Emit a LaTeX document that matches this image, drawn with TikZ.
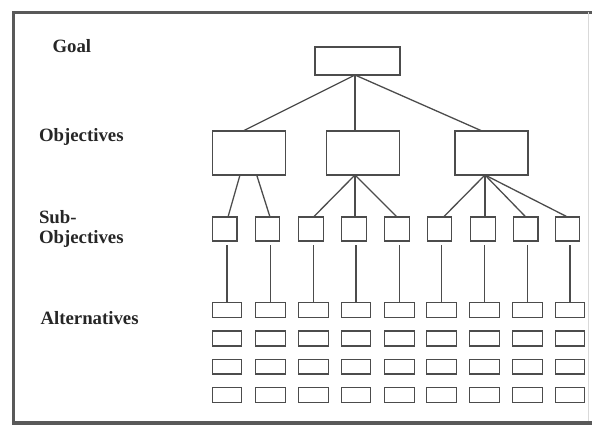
\documentclass[tikz,border=0pt]{standalone}
\usepackage{fontspec}
\setmainfont{Liberation Serif}
\usetikzlibrary{calc}

\begin{document}
\begin{tikzpicture}[x=1pt,y=-1pt,
  every node/.style={inner sep=0pt, outer sep=0pt},
  box/.style={draw=black!70, line width=1.4pt, fill=white},
  goalbox/.style={box, minimum width=85pt, minimum height=28pt},
  objbox/.style={box, minimum width=73pt, minimum height=44pt},
  subbox/.style={box, minimum width=24.5pt, minimum height=24pt},
  altbox/.style={box, minimum width=29.5pt, minimum height=14.7pt},
  link/.style={draw=black!70, line width=1.3pt},
  frameline/.style={draw=black!65, line width=3.5pt},
  level/.style={font=\bfseries\fontsize{18.8}{20}\selectfont, text=black!85, anchor=base west}]

\useasboundingbox (0,0) rectangle (592,425);

% outer frame
\draw[frameline] (592,12.5) -- (13.5,12.5) -- (13.5,423) -- (592,423);
\draw[draw=black!15, line width=1pt] (588,12.5) -- (588,421);

% level labels
\node[level] (lgoal) at (52.5,53) {Goal};
\node[level] (lobj) at (39,141.7) {Objectives};
\node[level] (lsub1) at (39,223) {Sub-};
\node[level] (lsub2) at (39,243) {Objectives};
\node[level] (lalt) at (40.5,324) {Alternatives};

% goal and objectives
\node[goalbox] (goal) at (357.5,61) {};
\node[objbox] (o1) at (249,153) {};
\node[objbox] (o2) at (363,153) {};
\node[objbox] (o3) at (491.5,153) {};

\draw[link] ([xshift=-2.5pt]goal.south) -- ([xshift=-6pt]o1.north);
\draw[link] ([xshift=-2.5pt]goal.south) -- ([xshift=-8pt]o2.north);
\draw[link] ([xshift=-2.5pt]goal.south) -- ([xshift=-9.5pt]o3.north);

% sub-objectives with their columns of alternatives
\foreach \i/\sx/\ax in {1/224.7/227, 2/267.5/270.5, 3/311/313.5, 4/354/356,
                        5/397/399.5, 6/439.5/441.5, 7/483/484.5, 8/525.8/527.5,
                        9/567.5/570}{
  \node[subbox] (s\i) at (\sx,229) {};
  \foreach \r/\ay in {1/310, 2/338.5, 3/366.7, 4/395}
    \node[altbox] (a\i-\r) at (\ax,\ay) {};
  \draw[link] (a\i-1.north) -- ($(a\i-1.north |- s\i.south)+(0,4)$);
}

% objective 1
\draw[link] ([xshift=-9pt]o1.south) -- ([xshift=3.3pt]s1.north);
\draw[link] ([xshift=7.7pt]o1.south) -- ([xshift=2.5pt]s2.north);
% objective 2
\draw[link] ([xshift=-8pt]o2.south) -- ([xshift=2.5pt]s3.north);
\draw[link] ([xshift=-8pt]o2.south) -- ([xshift=1pt]s4.north);
\draw[link] ([xshift=-8pt]o2.south) -- (s5.north);
% objective 3
\draw[link] ([xshift=-6.5pt]o3.south) -- ([xshift=4pt]s6.north);
\draw[link] ([xshift=-6.5pt]o3.south) -- ([xshift=2pt]s7.north);
\draw[link] ([xshift=-6.5pt]o3.south) -- (s8.north);
\draw[link] ([xshift=-6.5pt]o3.south) -- (s9.north);

\end{tikzpicture}
\end{document}
